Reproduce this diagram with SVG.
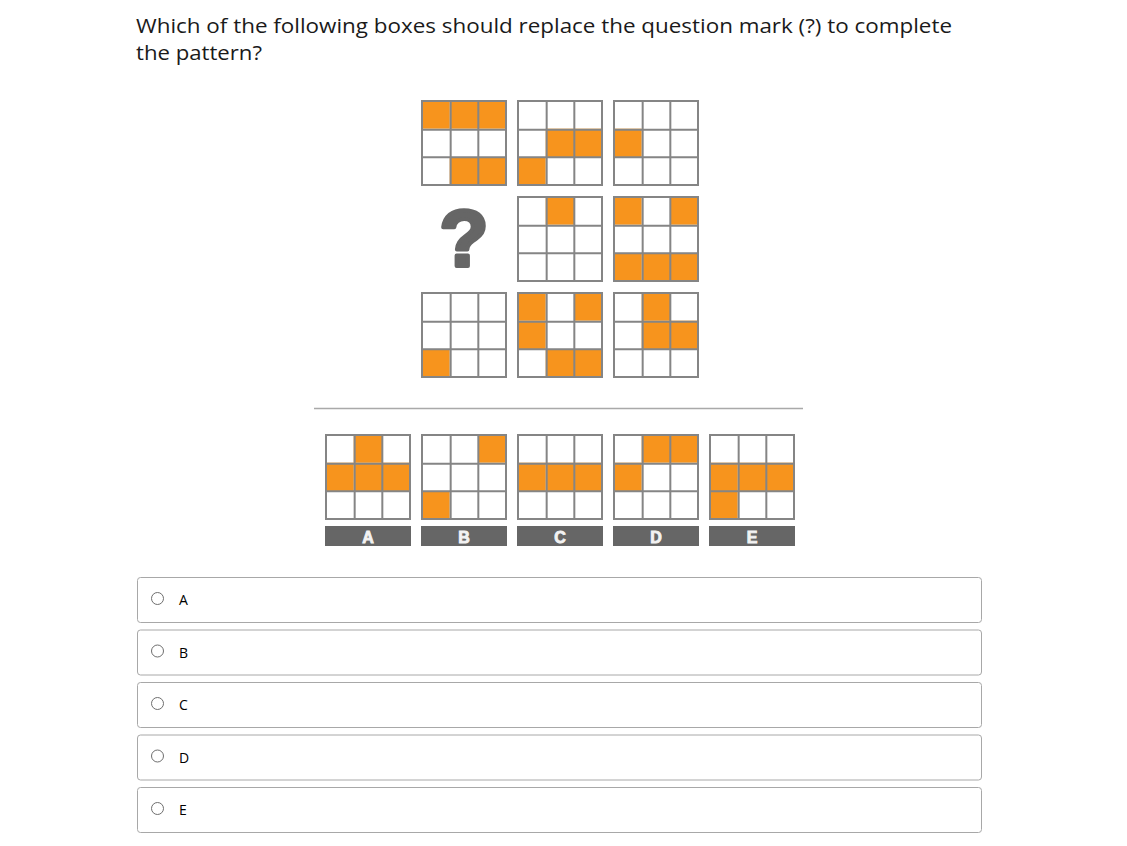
<svg xmlns="http://www.w3.org/2000/svg" xmlns:xlink="http://www.w3.org/1999/xlink" width="1127" height="846" viewBox="0 0 1127 846">
<style>
.t{font-family:"Segoe UI","Open Sans","Noto Sans","Liberation Sans",sans-serif;fill:#1a1a1a}
.o{fill:#F7941D}
.bar{fill:#666666}
.bl{font-family:"Liberation Sans",Arial,sans-serif;font-weight:bold;font-size:16px;fill:#f2f2f2;stroke:#f2f2f2;stroke-width:0.9;text-anchor:middle}
.box{fill:#fff;stroke:#a8a8a8;stroke-width:1}
.rad{fill:#fff;stroke:#6e6e6e;stroke-width:1}
.ol{font-family:"Segoe UI","Open Sans","Noto Sans","Liberation Sans",sans-serif;font-size:14px;fill:#000}
</style>
<defs>
<g id="grid">
<path d="M1,1H85V85H1Z M29.67,1V85 M57.33,1V85 M1,29.67H85 M1,57.33H85" fill="none" stroke="#858585" stroke-width="2"/>
</g>
<rect id="c" width="28.67" height="28.67" class="o"/>
</defs>
<rect width="1127" height="846" fill="#fff"/>
<g id="question">
<text class="t" x="136" y="33" font-size="20.5" textLength="816" lengthAdjust="spacingAndGlyphs">Which of the following boxes should replace the question mark (?) to complete</text>
<text class="t" x="136" y="60" font-size="20.5" textLength="126" lengthAdjust="spacingAndGlyphs">the pattern?</text>
</g>
<g id="p11" transform="translate(421,100)">
<use xlink:href="#c" x="0" y="0"/><use xlink:href="#c" x="28.67" y="0"/><use xlink:href="#c" x="57.33" y="0"/>
<use xlink:href="#c" x="28.67" y="57.33"/><use xlink:href="#c" x="57.33" y="57.33"/>
<use xlink:href="#grid"/>
</g>
<g id="p12" transform="translate(517,100)">
<use xlink:href="#c" x="28.67" y="28.67"/><use xlink:href="#c" x="57.33" y="28.67"/>
<use xlink:href="#c" x="0" y="57.33"/>
<use xlink:href="#grid"/>
</g>
<g id="p13" transform="translate(613,100)">
<use xlink:href="#c" x="0" y="28.67"/>
<use xlink:href="#grid"/>
</g>
<g id="p21">
<text x="464" y="266" font-family="'Liberation Sans',Arial,sans-serif" font-weight="bold" font-size="80" fill="#666666" stroke="#666666" stroke-width="4" stroke-linejoin="round" text-anchor="middle">?</text>
</g>
<g id="p22" transform="translate(517,196)">
<use xlink:href="#c" x="28.67" y="0"/>
<use xlink:href="#grid"/>
</g>
<g id="p23" transform="translate(613,196)">
<use xlink:href="#c" x="0" y="0"/><use xlink:href="#c" x="57.33" y="0"/>
<use xlink:href="#c" x="0" y="57.33"/><use xlink:href="#c" x="28.67" y="57.33"/><use xlink:href="#c" x="57.33" y="57.33"/>
<use xlink:href="#grid"/>
</g>
<g id="p31" transform="translate(421,292)">
<use xlink:href="#c" x="0" y="57.33"/>
<use xlink:href="#grid"/>
</g>
<g id="p32" transform="translate(517,292)">
<use xlink:href="#c" x="0" y="0"/><use xlink:href="#c" x="57.33" y="0"/>
<use xlink:href="#c" x="0" y="28.67"/>
<use xlink:href="#c" x="28.67" y="57.33"/><use xlink:href="#c" x="57.33" y="57.33"/>
<use xlink:href="#grid"/>
</g>
<g id="p33" transform="translate(613,292)">
<use xlink:href="#c" x="28.67" y="0"/>
<use xlink:href="#c" x="28.67" y="28.67"/><use xlink:href="#c" x="57.33" y="28.67"/>
<use xlink:href="#grid"/>
</g>
<g id="separator">
<line x1="314" y1="408.5" x2="803" y2="408.5" stroke="#a9a9a9" stroke-width="1.5"/>
</g>
<g id="ansA" transform="translate(325,434)">
<use xlink:href="#c" x="28.67" y="0"/>
<use xlink:href="#c" x="0" y="28.67"/><use xlink:href="#c" x="28.67" y="28.67"/><use xlink:href="#c" x="57.33" y="28.67"/>
<use xlink:href="#grid"/>
<rect class="bar" x="0" y="92" width="86" height="20"/>
<text class="bl" x="43" y="108.5">A</text>
</g>
<g id="ansB" transform="translate(421,434)">
<use xlink:href="#c" x="57.33" y="0"/>
<use xlink:href="#c" x="0" y="57.33"/>
<use xlink:href="#grid"/>
<rect class="bar" x="0" y="92" width="86" height="20"/>
<text class="bl" x="43" y="108.5">B</text>
</g>
<g id="ansC" transform="translate(517,434)">
<use xlink:href="#c" x="0" y="28.67"/><use xlink:href="#c" x="28.67" y="28.67"/><use xlink:href="#c" x="57.33" y="28.67"/>
<use xlink:href="#grid"/>
<rect class="bar" x="0" y="92" width="86" height="20"/>
<text class="bl" x="43" y="108.5">C</text>
</g>
<g id="ansD" transform="translate(613,434)">
<use xlink:href="#c" x="28.67" y="0"/><use xlink:href="#c" x="57.33" y="0"/>
<use xlink:href="#c" x="0" y="28.67"/>
<use xlink:href="#grid"/>
<rect class="bar" x="0" y="92" width="86" height="20"/>
<text class="bl" x="43" y="108.5">D</text>
</g>
<g id="ansE" transform="translate(709,434)">
<use xlink:href="#c" x="0" y="28.67"/><use xlink:href="#c" x="28.67" y="28.67"/><use xlink:href="#c" x="57.33" y="28.67"/>
<use xlink:href="#c" x="0" y="57.33"/>
<use xlink:href="#grid"/>
<rect class="bar" x="0" y="92" width="86" height="20"/>
<text class="bl" x="43" y="108.5">E</text>
</g>
<g id="optA" transform="translate(0,577)">
<rect class="box" x="137.5" y="0.5" width="844" height="45" rx="3"/>
<circle class="rad" cx="157.5" cy="21.5" r="6"/>
<text class="ol" x="179" y="28">A</text>
</g>
<g id="optB" transform="translate(0,629.5)">
<rect class="box" x="137.5" y="0.5" width="844" height="45" rx="3"/>
<circle class="rad" cx="157.5" cy="21.5" r="6"/>
<text class="ol" x="179" y="28">B</text>
</g>
<g id="optC" transform="translate(0,682)">
<rect class="box" x="137.5" y="0.5" width="844" height="45" rx="3"/>
<circle class="rad" cx="157.5" cy="21.5" r="6"/>
<text class="ol" x="179" y="28">C</text>
</g>
<g id="optD" transform="translate(0,734.5)">
<rect class="box" x="137.5" y="0.5" width="844" height="45" rx="3"/>
<circle class="rad" cx="157.5" cy="21.5" r="6"/>
<text class="ol" x="179" y="28">D</text>
</g>
<g id="optE" transform="translate(0,787)">
<rect class="box" x="137.5" y="0.5" width="844" height="45" rx="3"/>
<circle class="rad" cx="157.5" cy="21.5" r="6"/>
<text class="ol" x="179" y="28">E</text>
</g>
</svg>
